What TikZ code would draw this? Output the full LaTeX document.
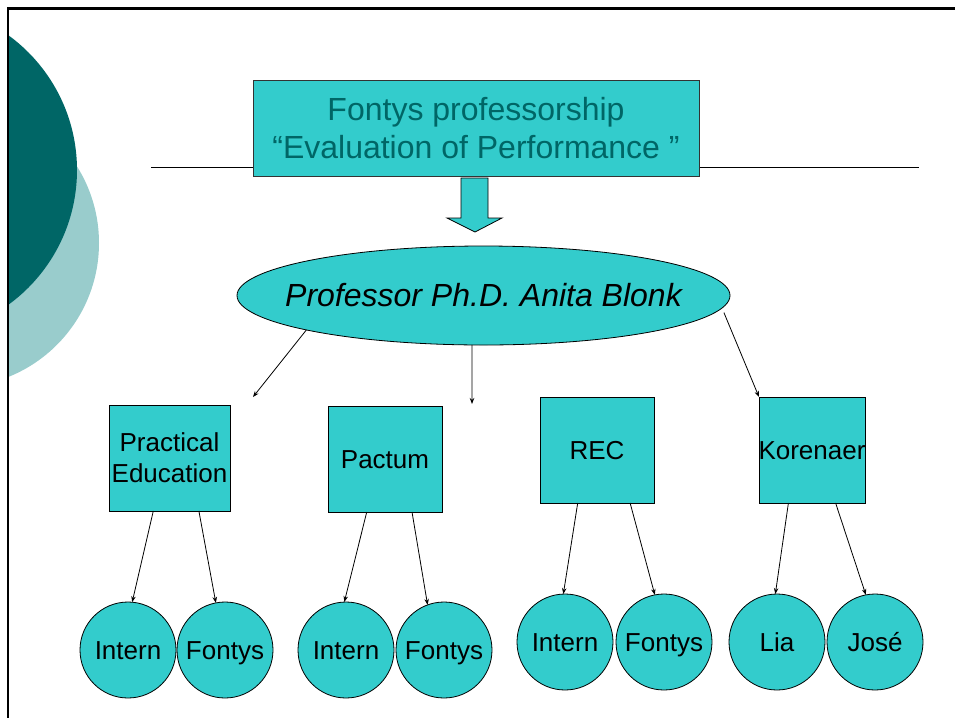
\documentclass[tikz,border=0pt]{standalone}
\usepackage{fontspec}
\setmainfont{Liberation Sans}
\usetikzlibrary{shapes.geometric,arrows.meta}
\definecolor{tealfill}{RGB}{51,204,204}
\definecolor{tealdark}{RGB}{0,102,102}
\definecolor{teallight}{RGB}{153,204,204}
\begin{document}
\begin{tikzpicture}[x=1pt,y=-1pt,
  every node/.style={outer sep=0pt,inner sep=0pt},
  boxnode/.style={draw=black,line width=0.8pt,fill=tealfill,rectangle,minimum height=106pt,align=center,font=\fontsize{26}{31}\selectfont},
  onetext/.style={text height=18.6pt,text depth=0pt},
  circnode/.style={draw=black,line width=0.8pt,fill=tealfill,circle,minimum size=96pt,font=\fontsize{26}{31}\selectfont,onetext},
  conn/.style={line width=0.8pt,-{Stealth[length=6pt,width=4.5pt]}}]
\useasboundingbox (0,0) rectangle (955,718);
% background decoration
\begin{scope}
  \clip (8,8) rectangle (955,718);
  \fill[teallight] (-45.2,243) circle (144.2);
  \fill[tealdark] (-89.6,170) circle (166.6);
\end{scope}
\draw[line width=2.2pt] (955,8.5) -- (8.3,8.5) -- (8.3,718);
% horizontal rule behind title
\draw[line width=0.8pt] (151,167) -- (919,167);
% title
\node[draw=black!80,line width=0.9pt,fill=tealfill,rectangle,minimum width=446pt,minimum height=96pt,align=center,
      text=tealdark,font=\fontsize{32}{38}\selectfont] (title) at (476,128)
  {Fontys professorship\\``Evaluation of Performance ''};
% block arrow
\filldraw[fill=tealfill,draw=black,line width=0.8pt]
  (461,178) -- (488,178) -- (488,218) -- (502,218) -- (475,232) -- (447,218) -- (461,218) -- cycle;
% ellipse
\node[draw=black,line width=0.8pt,fill=tealfill,ellipse,minimum width=493pt,minimum height=99pt,
      font=\fontsize{32}{38}\selectfont\itshape,text height=22.9pt,text depth=0pt] (ell) at (483.5,295.5)
  {\makebox[0pt]{Professor Ph.D. Anita Blonk}};
% boxes
\node[boxnode,minimum width=121pt] (pe) at (169.5,458) {Practical\\Education};
\node[boxnode,onetext,minimum width=114pt] (pa) at (385,459) {Pactum};
\node[boxnode,onetext,minimum width=114pt] (rec) at (597,450) {REC};
\node[boxnode,onetext,minimum width=106pt] (kor) at (812,450) {\makebox[0pt]{Korenaer}};
% circles
\node[circnode] (i1) at (128,650) {Intern};
\node[circnode] (f1) at (225,650) {Fontys};
\node[circnode] (i2) at (346,650) {Intern};
\node[circnode] (f2) at (444,650) {Fontys};
\node[circnode] (i3) at (565,642) {Intern};
\node[circnode] (f3) at (664,642) {Fontys};
\node[circnode] (lia) at (777,642) {Lia};
\node[circnode] (jose) at (875,642) {José};
% free ends of ellipse arrows
\coordinate (e1) at (253,397);
\coordinate (e2) at (472,404);
\coordinate (e3) at (759,397);
\draw[conn] (ell.191) -- (e1);
\draw[conn] (ell.257) -- (e2);
\draw[conn,shorten <=5pt] (ell.-3) -- (e3);
% box to circle arrows
\draw[conn] (pe.253.7) -- (i1.85.3);
\draw[conn] (pe.299.9) -- (f1.101.5);
\draw[conn] (pa.251.2) -- (i2.92.3);
\draw[conn] (pa.297) -- (f2.110.2);
\draw[conn] (rec.250.3) -- (i3.92.3);
\draw[conn] (rec.302.7) -- (f3.101.5);
\draw[conn] (kor.246.5) -- (lia.92.3);
\draw[conn] (kor.294.4) -- (jose.101.5);
\end{tikzpicture}
\end{document}
